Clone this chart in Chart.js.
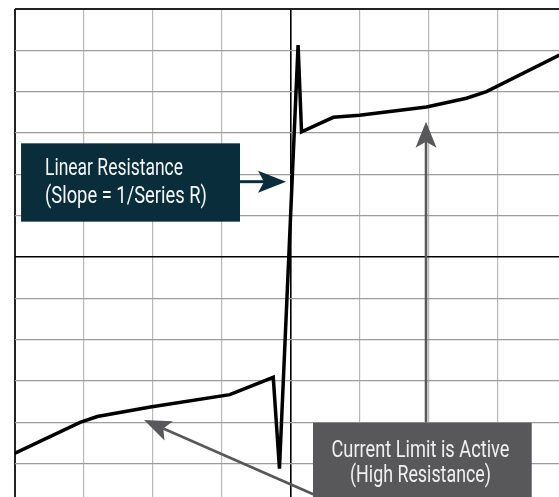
<!DOCTYPE html>
<html>
<head>
<meta charset="utf-8">
<script src="https://cdn.jsdelivr.net/npm/chart.js@4"></script>
<style>
  html, body { margin: 0; padding: 0; background: #fff; overflow: hidden; }
  #wrap { position: absolute; left: 0; top: 0; width: 580px; height: 520px; }
</style>
</head>
<body>
<div id="wrap"><canvas id="c"></canvas></div>
<script>
// Curve (grid units: x -4..4, y -6..6)
const curveX = [-4.0, -3.05, -2.80, -2.03, -0.88, -0.25, -0.16, 0.11, 0.16, 0.62, 1.00, 1.97, 2.55, 2.84, 4.0];
const curveY = [-4.75, -4.00, -3.86, -3.63, -3.33, -2.91, -5.12, 5.13, 3.03, 3.38, 3.43, 3.63, 3.84, 4.00, 4.97];

// Axis ranges / tick labels (hidden)
const xRange = [-4, 4];
const yRange = [-6, 6];

// Annotation texts
const label1Lines = ["Linear Resistance", "(Slope = 1/Series R)"];
const label2Lines = ["Current Limit is Active", "(High Resistance)"];

const points = curveX.map((x, i) => ({ x: x, y: curveY[i] }));

function drawArrow(ctx, x0, y0, x1, y1, color, lw, headLen, halfW, notch) {
  const ang = Math.atan2(y1 - y0, x1 - x0);
  const c = Math.cos(ang), s = Math.sin(ang);
  const bx = x1 - c * headLen, by = y1 - s * headLen;
  const nx = x1 - c * (headLen - notch), ny = y1 - s * (headLen - notch);
  ctx.save();
  ctx.strokeStyle = color; ctx.fillStyle = color; ctx.lineWidth = lw;
  ctx.beginPath(); ctx.moveTo(x0, y0); ctx.lineTo(nx, ny); ctx.stroke();
  ctx.beginPath();
  ctx.moveTo(x1, y1);
  ctx.lineTo(bx - s * halfW, by + c * halfW);
  ctx.lineTo(nx, ny);
  ctx.lineTo(bx + s * halfW, by - c * halfW);
  ctx.closePath(); ctx.fill();
  ctx.restore();
}

const annotPlugin = {
  id: 'annot',
  afterDatasetsDraw(chart) {
    const ctx = chart.ctx;
    const X = v => chart.scales.x.getPixelForValue(v);
    const Y = v => chart.scales.y.getPixelForValue(v);
    const font = '23px "Liberation Sans Narrow", Roboto, "DejaVu Sans Condensed", sans-serif';

    // Box 1 (dark)
    ctx.save();
    ctx.fillStyle = '#0a2d3c';
    ctx.fillRect(X(-3.905), Y(2.75), X(-0.732) - X(-3.905), Y(0.855) - Y(2.75));
    ctx.fillStyle = '#f4f6f7';
    ctx.font = font;
    ctx.textBaseline = 'alphabetic';
    ctx.textAlign = 'left';
    ctx.fillText(label1Lines[0], X(-3.558), Y(1.984), 138);
    ctx.fillText(label1Lines[1], X(-3.558), Y(1.307), 162);
    ctx.restore();
    drawArrow(ctx, X(-0.732), Y(1.822), X(-0.065), Y(1.822), '#0a2d3c', 3, 28, 11, 6);

    // Arrows (gray)
    drawArrow(ctx, X(1.964), Y(-4.0), X(1.964), Y(3.274), '#58585a', 2.6, 26, 10.5, 6);
    drawArrow(ctx, X(0.33), Y(-5.74), X(-2.123), Y(-3.944), '#58585a', 2.6, 27, 10.5, 6);

    // Box 2 (gray)
    ctx.save();
    ctx.fillStyle = '#58585a';
    ctx.fillRect(X(0.326), Y(-4.009), X(3.496) - X(0.326), Y(-6) - Y(-4.009) + 10);
    ctx.fillStyle = '#f0f0f0';
    ctx.font = font;
    ctx.textAlign = 'center';
    ctx.fillText(label2Lines[0], X(1.884), Y(-4.827), 178);
    ctx.fillText(label2Lines[1], X(1.884), Y(-5.432), 141);
    ctx.restore();
  }
};

new Chart(document.getElementById('c'), {
  type: 'line',
  data: {
    datasets: [{
      data: points,
      borderColor: '#000',
      borderWidth: 3.5,
      pointRadius: 0,
      tension: 0,
      fill: false,
      borderJoinStyle: 'miter'
    }]
  },
  options: {
    responsive: true,
    maintainAspectRatio: false,
    animation: false,
    events: [],
    layout: { padding: { left: 14.5, top: 9, right: 13.5, bottom: 15 } },
    plugins: { legend: { display: false }, tooltip: { enabled: false } },
    scales: {
      x: {
        type: 'linear', min: xRange[0], max: xRange[1],
        ticks: { display: false, stepSize: 1 },
        border: { display: false },
        grid: {
          drawTicks: false,
          color: c => (c.tick.value === 0 ? '#000' : c.tick.value === xRange[0] ? '#222' : '#b8b8b8'),
          lineWidth: c => (c.tick.value === 0 ? 1.6 : c.tick.value === xRange[0] ? 2 : 1.2)
        }
      },
      y: {
        type: 'linear', min: yRange[0], max: yRange[1],
        ticks: { display: false, stepSize: 1 },
        border: { display: false },
        grid: {
          drawTicks: false,
          color: c => (c.tick.value === 0 ? '#000' : c.tick.value === yRange[1] ? '#222' : '#9c9c9c'),
          lineWidth: c => (c.tick.value === 0 ? 1.6 : c.tick.value === yRange[1] ? 2 : 1.2)
        }
      }
    }
  },
  plugins: [annotPlugin]
});
</script>
</body>
</html>
